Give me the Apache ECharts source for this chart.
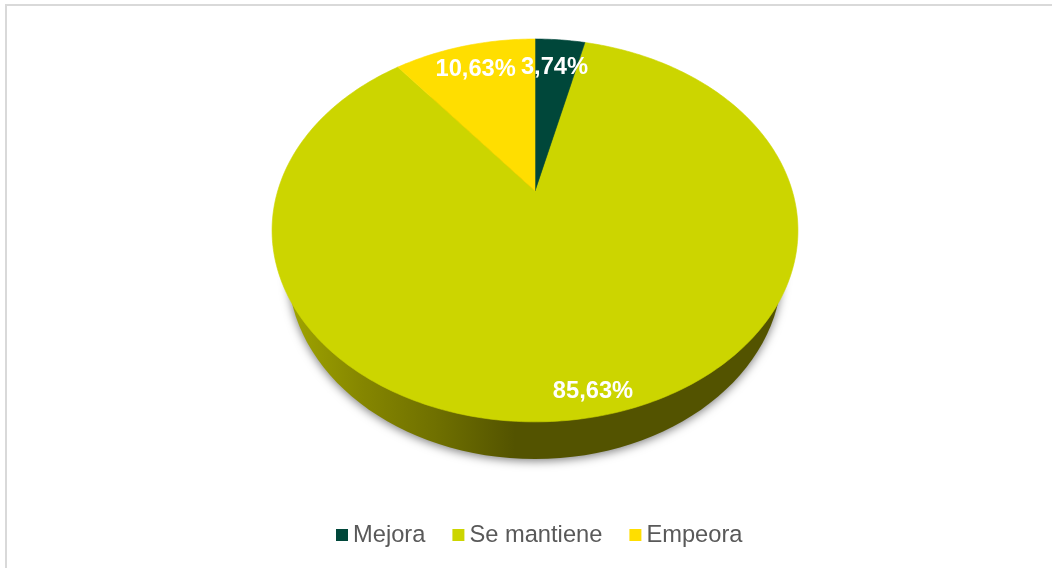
<!DOCTYPE html>
<html>
<head>
<meta charset="utf-8">
<style>
html,body{margin:0;padding:0;background:#fff;}
#chart{width:1052px;height:568px;}
</style>
<script src="https://cdn.jsdelivr.net/npm/echarts@6/dist/echarts.min.js"></script>
</head>
<body>
<div id="chart"></div>
<script>
// datos
var categories = ['Mejora', 'Se mantiene', 'Empeora'];
var values = [3.74, 85.63, 10.63];
var labels = ['3,74%', '85,63%', '10,63%'];
var colors = ['#00473a', '#ccd500', '#ffde00'];

// tarta inclinada: el centro queda por encima del centro de la elipse
var apexX = 535, apexY = 191;
var tilt = -0.206, scaleX = 257.3, scaleY = 183.3;
// base de la pared
var wallShape = { cx: 535, cy: 269, rx: 247, ry: 190 };
// radio relativo de cada etiqueta y ajuste horizontal
var labelRadius = [0.79, 0.915, 0.815];
var labelShift = [-1, -4, 0];

var total = values.reduce(function (a, b) { return a + b; }, 0);

//proyecta un punto de la tarta: pct va en sentido horario desde arriba
var project = function (pct, r) {
    var a = pct / total * Math.PI * 2;
    var u = Math.sin(a) * r, v = -Math.cos(a) * r;
    var w = 1 + tilt * v;
    return [apexX + scaleX * u / w, apexY + scaleY * v / w];
};

var startOf = function (idx) {
    var s = 0, i;
    for (i = 0; i < idx; i++) s += values[i];
    return s;
};

var renderSlice = function (params, api) {
    var idx = params.seriesIndex;
    var start = startOf(idx), value = api.value(0);
    var steps = Math.max(8, Math.round(value * 4)), i;
    var pts = [[apexX, apexY]];
    for (i = 0; i <= steps; i++) {
        pts.push(project(start + value * i / steps, 1));
    }
    var children = [];
    // la pared pertenece al trozo grande
    if (idx === 1) {
        children.push({
            type: 'ellipse',
            shape: wallShape,
            style: {
                fill: new echarts.graphic.LinearGradient(0, 0, 1, 0, [
                    { offset: 0, color: '#a0a500' },
                    { offset: 0.15, color: '#858600' },
                    { offset: 0.3, color: '#6f7000' },
                    { offset: 0.46, color: '#535300' },
                    { offset: 1, color: '#535300' }
                ]),
                shadowBlur: 10,
                shadowColor: 'rgba(0,0,0,0.5)',
                shadowOffsetY: 2
            }
        });
    }
    children.push({
        type: 'polygon',
        shape: { points: pts },
        style: { fill: api.visual('color'), stroke: api.visual('color'), lineWidth: 0.6 }
    });
    return { type: 'group', children: children };
};

// las etiquetas van en una serie aparte, encima de todos los trozos
var renderLabel = function (params) {
    var i = params.dataIndex;
    var p = project(startOf(i) + values[i] / 2, labelRadius[i]);
    return {
        type: 'text',
        x: p[0] + labelShift[i],
        y: p[1],
        style: {
            text: labels[i],
            fill: '#fff',
            font: 'bold 23.7px "Liberation Sans", Arial, sans-serif',
            align: 'center',
            verticalAlign: 'middle'
        }
    };
};

var series = categories.map(function (name, i) {
    return {
        name: name,
        type: 'custom',
        coordinateSystem: 'none',
        renderItem: renderSlice,
        itemStyle: { color: colors[i] },
        silent: true,
        animation: false,
        z: i === 1 ? 1 : 2,
        data: [[values[i]]]
    };
});
series.push({
    type: 'custom',
    coordinateSystem: 'none',
    renderItem: renderLabel,
    silent: true,
    animation: false,
    z: 5,
    data: values.map(function (v) { return [v]; })
});

var chart = echarts.init(document.getElementById('chart'));
chart.setOption({
    animation: false,
    backgroundColor: '#fff',
    color: colors,
    legend: {
        data: categories,
        left: 336,
        top: 523,
        padding: 0,
        icon: 'rect',
        itemWidth: 12,
        itemHeight: 12,
        itemGap: 27,
        textStyle: {
            color: '#595959',
            fontSize: 23.7,
            fontFamily: '"Liberation Sans", Arial, sans-serif'
        }
    },
    graphic: [{
        type: 'polyline',
        silent: true,
        shape: { points: [[6, 568], [6, 5], [1052, 5]] },
        style: { stroke: '#d9d9d9', lineWidth: 2, fill: null }
    }],
    series: series
});
</script>
</body>
</html>
